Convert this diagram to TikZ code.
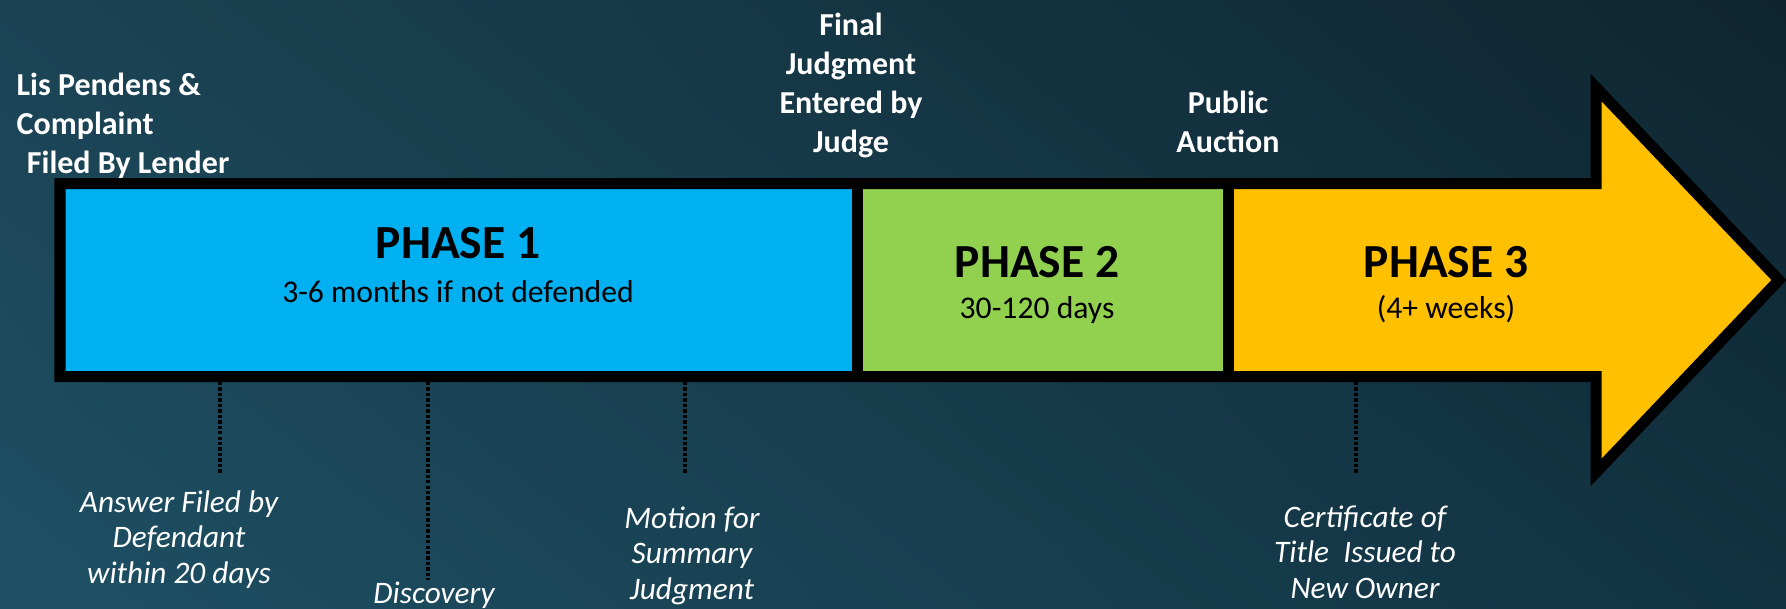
\documentclass[tikz,border=0pt]{standalone}
\usepackage{fontspec}
\setmainfont{Carlito}
\usepackage{tikz}
\usetikzlibrary{shadings}

\definecolor{phaseblue}{HTML}{00B0F0}
\definecolor{phasegreen}{HTML}{92D050}
\definecolor{phasegold}{HTML}{FFC000}
\definecolor{bgul}{HTML}{1B4354}
\definecolor{bgur}{HTML}{0E2530}
\definecolor{bgll}{HTML}{1E5064}
\definecolor{bglr}{HTML}{123241}

\begin{document}
\begin{tikzpicture}[x=0.01cm, y=-0.01cm,
        title/.style = {font=\fontsize{13.5}{16}\selectfont\bfseries, inner sep=0, anchor=base},
        span/.style = {font=\fontsize{9}{11}\selectfont, inner sep=0, anchor=base},
        event/.style = {font=\fontsize{9.1}{11.1}\selectfont\bfseries, text=white, inner sep=0, align=center, anchor=north},
        substep/.style = {font=\fontsize{8.9}{10.1}\selectfont\itshape, text=white, inner sep=0, align=center, anchor=north},
        tick/.style = {black, line width=1.1pt, dash pattern=on 0.95pt off 0.6pt},
        outline/.style = {black, line width=3.13pt, line join=miter}]
                \useasboundingbox (0, 0) rectangle (1786, 608);
                \shade[upper left=bgul, upper right=bgur, lower left=bgll, lower right=bglr] (0, 0) rectangle (1786, 608);

                % timeline arrow
                \fill[phaseblue] (60, 183.5) rectangle (857, 376.5);
                \fill[phasegreen] (857, 183.5) rectangle (1228, 376.5);
                \fill[phasegold] (1228, 183.5) -- (1596, 183.5) -- (1596, 87.5) -- (1779, 280) -- (1596, 472.5) -- (1596, 376.5) -- (1228, 376.5) -- cycle;
                \draw[outline] (60, 183.5) -- (1596, 183.5) -- (1596, 87.5) -- (1779, 280) -- (1596, 472.5) -- (1596, 376.5) -- (60, 376.5) -- cycle;
                \draw[outline] (857, 183.5) -- (857, 376.5);
                \draw[outline] (1228, 183.5) -- (1228, 376.5);

                \node[title] at (458, 258) (P1) {PHASE 1};
                \node[span] at (458, 302) (S1) {3-6 months if not defended};
                \node[title] at (1037, 277) (P2) {PHASE 2};
                \node[span] at (1037, 318) (S2) {30-120 days};
                \node[title] at (1446, 277) (P3) {PHASE 3};
                \node[span] at (1446, 318) (S3) {(4+ weeks)};

                \node[event, anchor=north west, align=left] at (16, 72) (Lis) {Lis Pendens \&\\Complaint\\\hspace*{0.32em}Filed By Lender};
                \node[event] at (851, 12) (Fin) {Final\\Judgment\\Entered by\\Judge};
                \node[event] at (1228, 90) (Auc) {Public\\Auction};

                \coordinate (T1) at (220, 382);
                \coordinate (T2) at (428, 382);
                \coordinate (T3) at (685, 382);
                \coordinate (T4) at (1356, 382);
                \coordinate (E1) at (220, 473);
                \coordinate (E2) at (428, 580);
                \coordinate (E3) at (685, 473);
                \coordinate (E4) at (1356, 473);

                \draw[tick] (T1) -- (E1);
                \draw[tick] (T2) -- (E2);
                \draw[tick] (T3) -- (E3);
                \draw[tick] (T4) -- (E4);

                \node[substep] at (179, 490) (Ans) {Answer Filed by\\Defendant\\within 20 days};
                \node[substep] at (434, 581) (Dis) {Discovery};
                \node[substep] at (692, 506) (Mot) {Motion for\\Summary\\Judgment};
                \node[substep] at (1365, 505) (Cer) {Certificate of\\Title\ \ Issued to\\New Owner};
            \end{tikzpicture}
\end{document}
